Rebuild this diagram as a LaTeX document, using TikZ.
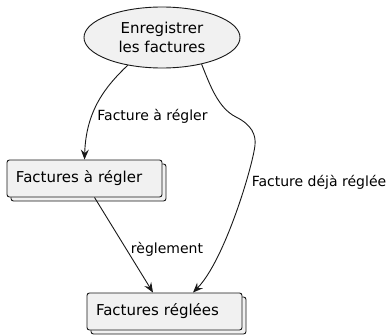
\documentclass[tikz,border=0pt]{standalone}
\usepackage{fontspec}
\setmainfont{DejaVu Sans}
\usetikzlibrary{shapes.geometric,arrows.meta,shadows}
\definecolor{nodefill}{HTML}{F1F1F1}
\definecolor{nodeline}{HTML}{181818}
\begin{document}
\begin{tikzpicture}[x=1pt,y=-1pt,
  usecase/.style={ellipse,draw=nodeline,fill=nodefill,line width=0.9pt,
    minimum width=156pt,minimum height=61pt,inner sep=0pt,align=center,
    font=\fontsize{15}{19}\selectfont},
  coll/.style={rectangle,rounded corners=2.5pt,draw=nodeline,fill=nodefill,line width=0.9pt,
    minimum height=37pt,text width=137pt,align=left,inner xsep=9pt,inner ysep=0pt,
    font=\fontsize{15}{18}\selectfont,
    copy shadow={shadow xshift=4pt,shadow yshift=-4pt}},
  conn/.style={draw=nodeline,line width=0.9pt,-{Stealth[length=10pt,width=8pt,inset=3.5pt]}},
  lbl/.style={font=\fontsize{14}{17}\selectfont,inner sep=0pt}]
\useasboundingbox (0,0) rectangle (387,334);
\node[usecase] (e) at (162,37.5) {Enregistrer\\les factures};
\node[coll] (b1) at (84.5,178.5) {Factures à régler};
\node[coll] (b2) at (164.5,311.5) {Factures réglées};
\draw[conn] (e.-141) .. controls (106,86) and (86,110) .. (b1.north);
\draw[conn] ([xshift=10pt]b1.south) -- ([xshift=-11.5pt]b2.north);
\draw[conn] (e.-34) .. controls (210,85) and (218,108) .. (236,117)
  .. controls (252,125) and (256,135) .. (255,145)
  .. controls (253,165) and (225,260) .. ([xshift=28.5pt]b2.north);
\node[lbl] (l1) at (152.5,116) {Facture à régler};
\node[lbl] (l2) at (167,249) {règlement};
\node[lbl] (l3) at (319,182) {Facture déjà réglée};
\end{tikzpicture}
\end{document}
